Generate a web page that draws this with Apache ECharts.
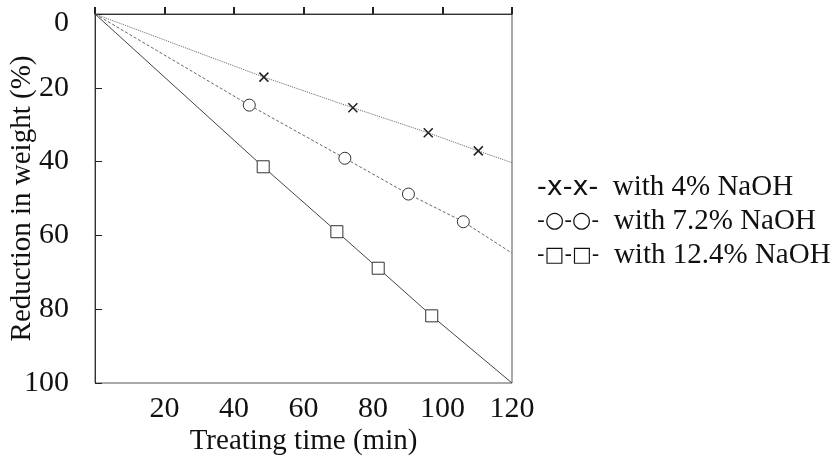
<!DOCTYPE html>
<html>
<head>
<meta charset="utf-8">
<script src="https://cdn.jsdelivr.net/npm/echarts@6/dist/echarts.min.js"></script>
<style>
  html, body { margin: 0; padding: 0; background: #fff; }
  #main { width: 839px; height: 466px; }
</style>
</head>
<body>
<div id="main"></div>
<script>
// treating time (min) and reduction in weight (%) for each NaOH strength
var naoh4 = [[0, 0], [48.6, 17.1], [74.2, 25.4], [95.9, 32.2], [110.3, 37.1], [120, 40.3]];
var naoh72 = [[0, 0], [44.4, 24.7], [71.9, 39.1], [90.2, 48.8], [106, 56.3], [120, 64.8]];
var naoh124 = [[0, 0], [48.4, 41.4], [69.6, 59], [81.5, 68.9], [96.9, 81.8], [120, 100]];
var seriesNames = ['with 4% NaOH', 'with 7.2% NaOH', 'with 12.4% NaOH'];
var legendMarks = ['{mx|-x-x-}', '{mo|-\u25CB-\u25CB-}', '{ms|-\u25A1-\u25A1-}'];

var serif = 'Liberation Serif';
var ink = '#111';

// first and last point are just line ends, no marker
function withEnds(data) {
  return data.map(function (p, i) {
    if (i === 0 || i === data.length - 1) {
      return { value: p, symbol: 'none' };
    }
    return p;
  });
}

var chart = echarts.init(document.getElementById('main'));

chart.setOption({
  backgroundColor: '#fff',
  animation: false,
  grid: {
    left: 95,
    right: 327,
    top: 14,
    bottom: 83,
    outerBoundsMode: 'none',
    containLabel: false,
    show: true,
    borderColor: '#555',
    borderWidth: 1
  },
  legend: {
    orient: 'vertical',
    left: 532,
    top: 172,
    padding: 0,
    icon: 'none',
    itemWidth: 0,
    itemGap: 3,
    selectedMode: false,
    data: seriesNames,
    formatter: function (name) {
      var i = seriesNames.indexOf(name);
      return legendMarks[i] + '  ' + name;
    },
    textStyle: {
      fontFamily: serif,
      fontSize: 29,
      lineHeight: 31,
      color: ink,
      rich: {
        mx: { fontFamily: 'DejaVu Sans', fontSize: 27, color: ink },
        mo: { fontFamily: 'DejaVu Sans', fontSize: 22, color: ink },
        ms: { fontFamily: 'DejaVu Sans', fontSize: 21, color: ink }
      }
    }
  },
  xAxis: {
    type: 'value',
    min: 0,
    max: 120,
    interval: 20,
    name: 'Treating time (min)',
    nameLocation: 'middle',
    nameGap: 44,
    nameMoveOverlap: false,
    nameTextStyle: { fontFamily: serif, fontSize: 29, color: ink },
    axisLine: { show: true, lineStyle: { color: '#333', width: 1 } },
    axisTick: { show: true, inside: true, length: 7, lineStyle: { color: '#222', width: 2 } },
    axisLabel: {
      margin: 11,
      fontFamily: serif,
      fontSize: 30,
      color: ink,
      formatter: function (v) { return v === 0 ? '' : v; }
    },
    splitLine: { show: false }
  },
  yAxis: {
    type: 'value',
    inverse: true,
    min: 0,
    max: 100,
    interval: 20,
    name: 'Reduction in weight (%)',
    nameLocation: 'middle',
    nameGap: 58,
    nameMoveOverlap: false,
    nameRotate: 90,
    nameTextStyle: { fontFamily: serif, fontSize: 29, color: ink },
    axisLine: { show: true, lineStyle: { color: '#333', width: 1 } },
    axisTick: { show: true, inside: true, length: 7, lineStyle: { color: '#222', width: 1 } },
    axisLabel: {
      margin: 26,
      fontFamily: serif,
      fontSize: 30,
      color: ink,
      // the top "0" sits a little below the frame in the original
      formatter: function (v) { return v === 0 ? '{z|0}' : v; },
      rich: { z: { fontFamily: serif, fontSize: 30, color: ink, padding: [18, 0, 0, 0] } }
    },
    splitLine: { show: false }
  },
  series: [
    {
      name: seriesNames[0],
      type: 'line',
      data: withEnds(naoh4),
      symbol: 'path://M0,0L10,10M10,0L0,10',
      symbolSize: 9,
      itemStyle: { color: 'none', borderColor: '#222', borderWidth: 1.5 },
      lineStyle: { color: '#666', width: 1, type: 'dotted' }
    },
    {
      name: seriesNames[1],
      type: 'line',
      data: withEnds(naoh72),
      symbol: 'circle',
      symbolSize: 12,
      itemStyle: { color: '#fff', borderColor: '#333', borderWidth: 1 },
      lineStyle: { color: '#666', width: 1, type: [3, 2] }
    },
    {
      name: seriesNames[2],
      type: 'line',
      data: withEnds(naoh124),
      symbol: 'rect',
      symbolSize: 12,
      itemStyle: { color: '#fff', borderColor: '#333', borderWidth: 1 },
      lineStyle: { color: '#444', width: 1 }
    }
  ]
});
</script>
</body>
</html>
